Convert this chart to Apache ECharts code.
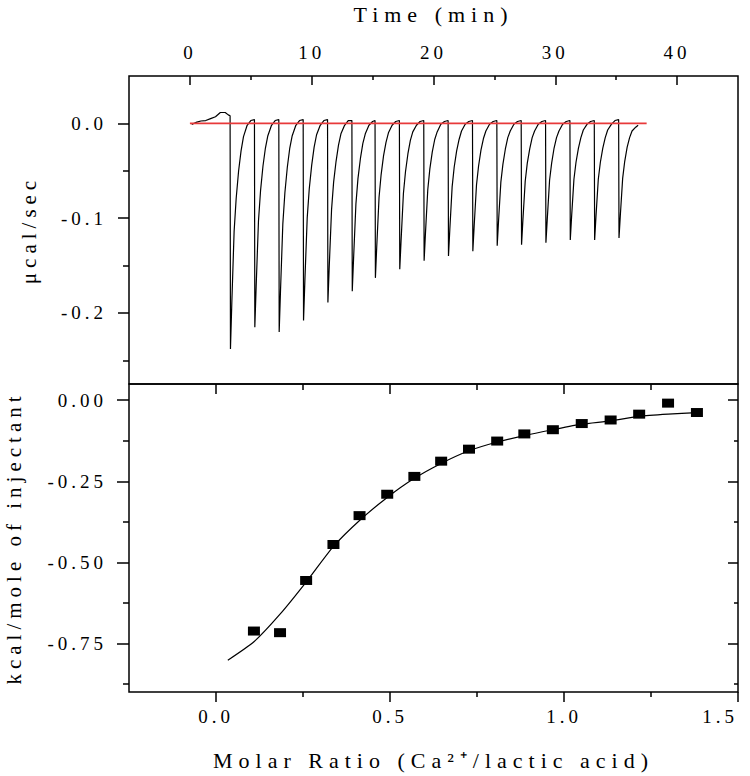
<!DOCTYPE html>
<html>
<head>
<meta charset="utf-8">
<script src="https://cdn.jsdelivr.net/npm/echarts@6/dist/echarts.min.js"></script>
<style>
html,body{margin:0;padding:0;background:#fff;}
#chart{width:750px;height:776px;}
#chart svg text{letter-spacing:4px;}
#chart svg text[style*="22px"]{letter-spacing:6px;}
#chart svg text[style*="21px"]{letter-spacing:5px;}
</style>
</head>
<body>
<div id="chart"></div>
<script>
// ---- tick values ----
const timeTicks = [0, 10, 20, 30, 40];
const timeMinorTicks = [5, 15, 25, 35];
const powerTicks = [0, -0.1, -0.2];
const powerMinorTicks = [-0.05, -0.15, -0.25];
const ratioTicks = [0, 0.5, 1.0, 1.5];
const ratioMinorTicks = [0.25, 0.75, 1.25];
const heatTicks = [0, -0.25, -0.5, -0.75];
const heatMinorTicks = [-0.125, -0.375, -0.625, -0.875];

// ---- raw thermogram (time in min, µcal/sec) ----
const thermogram = [
  [0.15,-0.001],[0.5,0.001],[0.9,0.0025],[1.3,0.003],[1.7,0.005],[2.1,0.007],[2.5,0.0115],[2.9,0.0115],[3.15,0.009],[3.3,0.008],
  [3.33,-0.238],[3.44,-0.190],[3.63,-0.114],[3.8,-0.079],[4.0,-0.050],[4.2,-0.029],[4.4,-0.014],[4.7,-0.002],[5.0,0.003],[5.3,0.004],
  [5.33,-0.215],[5.44,-0.172],[5.63,-0.103],[5.8,-0.071],[6.0,-0.045],[6.2,-0.026],[6.4,-0.013],[6.7,-0.002],[7.0,0.003],[7.3,0.004],
  [7.33,-0.220],[7.44,-0.176],[7.63,-0.106],[7.8,-0.073],[8.0,-0.046],[8.2,-0.026],[8.4,-0.013],[8.7,-0.002],[9.0,0.003],[9.3,0.004],
  [9.33,-0.208],[9.44,-0.166],[9.63,-0.100],[9.8,-0.069],[10.0,-0.044],[10.2,-0.025],[10.4,-0.012],[10.7,-0.002],[11.0,0.003],[11.3,0.004],
  [11.33,-0.189],[11.44,-0.151],[11.63,-0.091],[11.8,-0.062],[12.0,-0.040],[12.2,-0.023],[12.4,-0.011],[12.7,-0.002],[13.0,0.003],[13.3,0.003],
  [13.33,-0.177],[13.44,-0.142],[13.63,-0.085],[13.8,-0.058],[14.0,-0.037],[14.2,-0.021],[14.4,-0.011],[14.7,-0.002],[15.0,0.002],[15.2,0.003],
  [15.23,-0.163],[15.34,-0.130],[15.53,-0.078],[15.7,-0.054],[15.9,-0.034],[16.1,-0.020],[16.3,-0.010],[16.6,-0.002],[16.9,0.002],[17.2,0.003],
  [17.23,-0.154],[17.34,-0.123],[17.53,-0.074],[17.7,-0.051],[17.9,-0.032],[18.1,-0.018],[18.3,-0.009],[18.6,-0.002],[18.9,0.002],[19.2,0.003],
  [19.23,-0.145],[19.34,-0.116],[19.53,-0.070],[19.7,-0.048],[19.9,-0.030],[20.1,-0.017],[20.3,-0.009],[20.6,-0.001],[20.9,0.002],[21.2,0.003],
  [21.23,-0.140],[21.34,-0.112],[21.53,-0.067],[21.7,-0.046],[21.9,-0.029],[22.1,-0.017],[22.3,-0.008],[22.6,-0.001],[22.9,0.002],[23.2,0.003],
  [23.23,-0.135],[23.34,-0.108],[23.53,-0.065],[23.7,-0.045],[23.9,-0.028],[24.1,-0.016],[24.3,-0.008],[24.6,-0.001],[24.9,0.002],[25.2,0.003],
  [25.23,-0.129],[25.34,-0.103],[25.53,-0.062],[25.7,-0.043],[25.9,-0.027],[26.1,-0.015],[26.3,-0.008],[26.6,-0.001],[26.9,0.002],[27.2,0.003],
  [27.23,-0.128],[27.34,-0.102],[27.53,-0.061],[27.7,-0.042],[27.9,-0.027],[28.1,-0.015],[28.3,-0.008],[28.6,-0.001],[28.9,0.002],[29.2,0.003],
  [29.23,-0.126],[29.34,-0.101],[29.53,-0.060],[29.7,-0.042],[29.9,-0.026],[30.1,-0.015],[30.3,-0.008],[30.6,-0.001],[30.9,0.002],[31.2,0.003],
  [31.23,-0.123],[31.34,-0.098],[31.53,-0.059],[31.7,-0.041],[31.9,-0.026],[32.1,-0.015],[32.3,-0.007],[32.6,-0.001],[32.9,0.002],[33.2,0.003],
  [33.23,-0.123],[33.34,-0.098],[33.53,-0.059],[33.7,-0.041],[33.9,-0.026],[34.1,-0.015],[34.3,-0.007],[34.6,-0.001],[34.9,0.003],[35.2,0.004],
  [35.23,-0.121],[35.34,-0.097],[35.53,-0.058],[35.7,-0.040],[35.9,-0.025],[36.1,-0.015],[36.3,-0.008],[36.6,-0.004],[36.8,-0.002]
];
const baselineTime = [0, 37.5];
const baselineValue = [0, 0];

// ---- integrated heats ----
const injectionRatio = [0.109,0.184,0.259,0.3375,0.4125,0.492,0.570,0.647,0.727,0.808,0.886,0.968,1.051,1.134,1.216,1.299,1.382];
const injectionHeat = [-0.712,-0.717,-0.556,-0.445,-0.356,-0.290,-0.235,-0.188,-0.151,-0.126,-0.104,-0.091,-0.072,-0.061,-0.043,-0.009,-0.038];
const fitRatio = [0.034,0.109,0.184,0.259,0.3375,0.4125,0.492,0.570,0.647,0.727,0.808,0.886,0.968,1.051,1.134,1.216,1.299,1.382];
const fitHeat = [-0.802,-0.745,-0.660,-0.561,-0.451,-0.371,-0.300,-0.241,-0.195,-0.156,-0.129,-0.109,-0.091,-0.074,-0.064,-0.050,-0.043,-0.038];

const FONT = '"Liberation Serif", "Times New Roman", serif';
const tickStyle = {color:'#000', width:1.5};
const labelStyle = {color:'#000', fontSize:19, fontFamily:FONT};
const nameStyle = {color:'#000', fontSize:22, fontFamily:FONT};
const sideNameStyle = {color:'#000', fontSize:21, fontFamily:FONT};

function axisBase(extra) {
  return Object.assign({
    type:'value',
    axisLine:{show:false, onZero:false},
    splitLine:{show:false},
  }, extra);
}

const chart = echarts.init(document.getElementById('chart'), null, {renderer:'svg'});
chart.setOption({
  animation:false,
  backgroundColor:'#fff',
  grid:[
    {left:129, top:76, width:609, height:308, show:true, borderColor:'#000', borderWidth:1.5, backgroundColor:'transparent', containLabel:false, outerBoundsMode:'none'},
    {left:129, top:384, width:609, height:308, show:true, borderColor:'#000', borderWidth:1.5, backgroundColor:'transparent', containLabel:false, outerBoundsMode:'none'}
  ],
  xAxis:[
    axisBase({gridIndex:0, position:'top', min:-5, max:45,
      name:'Time (min)', nameLocation:'middle', nameGap:51, nameTextStyle:nameStyle,
      axisTick:{show:true, inside:true, length:9, lineStyle:tickStyle, customValues:timeTicks},
      axisLabel:{show:true, margin:14, customValues:timeTicks, formatter:v=>String(v), ...labelStyle}}),
    axisBase({gridIndex:0, position:'top', min:-5, max:45,
      axisTick:{show:true, inside:true, length:4, lineStyle:tickStyle, customValues:timeMinorTicks},
      axisLabel:{show:false, customValues:timeMinorTicks}}),
    axisBase({gridIndex:1, position:'bottom', min:-0.25, max:1.5,
      name:'Molar Ratio (Ca²⁺/lactic acid)', nameLocation:'middle', nameGap:57, nameTextStyle:nameStyle,
      axisTick:{show:true, inside:false, length:10, lineStyle:tickStyle, customValues:ratioTicks},
      axisLabel:{show:true, margin:15, customValues:ratioTicks, alignMaxLabel:'right', formatter:v=>v.toFixed(1), ...labelStyle}}),
    axisBase({gridIndex:1, position:'bottom', min:-0.25, max:1.5,
      axisTick:{show:true, inside:false, length:5, lineStyle:tickStyle, customValues:ratioMinorTicks},
      axisLabel:{show:false, customValues:ratioMinorTicks}}),
    axisBase({gridIndex:1, position:'top', min:-0.25, max:1.5,
      axisTick:{show:true, inside:true, length:10, lineStyle:tickStyle, customValues:[0, 0.5, 1.0]},
      axisLabel:{show:false, customValues:[0, 0.5, 1.0]}}),
    axisBase({gridIndex:1, position:'top', min:-0.25, max:1.5,
      axisTick:{show:true, inside:true, length:6, lineStyle:tickStyle, customValues:ratioMinorTicks},
      axisLabel:{show:false, customValues:ratioMinorTicks}})
  ],
  yAxis:[
    axisBase({gridIndex:0, position:'left', min:-0.275, max:0.05,
      name:'μcal/sec', nameLocation:'middle', nameGap:90, nameTextStyle:sideNameStyle,
      axisTick:{show:true, inside:false, length:11, lineStyle:tickStyle, customValues:powerTicks},
      axisLabel:{show:true, margin:22, customValues:powerTicks, formatter:v=>v.toFixed(1), ...labelStyle}}),
    axisBase({gridIndex:0, position:'left', min:-0.275, max:0.05,
      axisTick:{show:true, inside:false, length:6, lineStyle:tickStyle, customValues:powerMinorTicks},
      axisLabel:{show:false, customValues:powerMinorTicks}}),
    axisBase({gridIndex:1, position:'left', min:-0.9, max:0.05,
      name:'kcal/mole of injectant', nameLocation:'middle', nameGap:105, nameTextStyle:sideNameStyle,
      axisTick:{show:true, inside:false, length:12, lineStyle:tickStyle, customValues:heatTicks},
      axisLabel:{show:true, margin:22, customValues:heatTicks, formatter:v=>v.toFixed(2), ...labelStyle}}),
    axisBase({gridIndex:1, position:'left', min:-0.9, max:0.05,
      axisTick:{show:true, inside:false, length:6, lineStyle:tickStyle, customValues:heatMinorTicks},
      axisLabel:{show:false, customValues:heatMinorTicks}}),
    axisBase({gridIndex:1, position:'right', min:-0.9, max:0.05,
      axisTick:{show:true, inside:true, length:10, lineStyle:tickStyle, customValues:heatTicks},
      axisLabel:{show:false, customValues:heatTicks}}),
    axisBase({gridIndex:1, position:'right', min:-0.9, max:0.05,
      axisTick:{show:true, inside:true, length:4, lineStyle:tickStyle, customValues:heatMinorTicks},
      axisLabel:{show:false, customValues:heatMinorTicks}})
  ],
  series:[
    {type:'line', name:'Raw heat', xAxisIndex:0, yAxisIndex:0, data:thermogram,
      showSymbol:false, symbol:'none', lineStyle:{color:'#000', width:1.2}},
    {type:'line', name:'Baseline', xAxisIndex:0, yAxisIndex:0,
      data:baselineTime.map((t,i)=>[t, baselineValue[i]]),
      showSymbol:false, symbol:'none', lineStyle:{color:'#e8393a', width:1.6}},
    {type:'line', name:'Fit', xAxisIndex:2, yAxisIndex:2,
      data:fitRatio.map((x,i)=>[x, fitHeat[i]]),
      showSymbol:false, symbol:'none', smooth:0.2, lineStyle:{color:'#000', width:1.2}},
    {type:'scatter', name:'Integrated heat', xAxisIndex:2, yAxisIndex:2,
      data:injectionRatio.map((x,i)=>[x, injectionHeat[i]]),
      symbol:'rect', symbolSize:[12,9], itemStyle:{color:'#000', opacity:1}}
  ]
});
</script>
</body>
</html>
